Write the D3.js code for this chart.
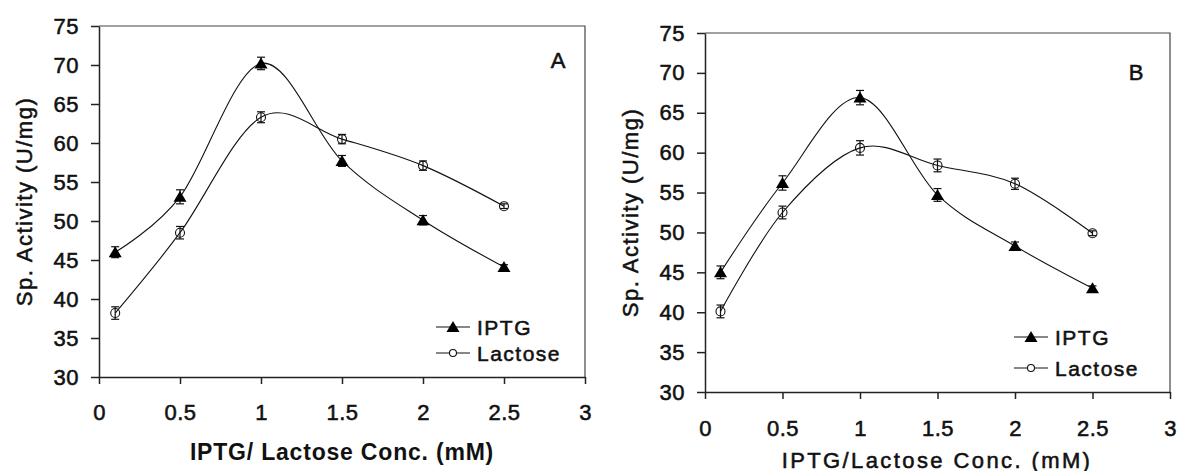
<!DOCTYPE html>
<html>
<head>
<meta charset="utf-8">
<script src="https://cdn.jsdelivr.net/npm/d3@7"></script>
<style>
  body { margin: 0; background: #fff; }
  text { font-family: "Liberation Sans", Arial, sans-serif; fill: #111; }
  .heavy { stroke: #111; stroke-width: 0.55px; }
</style>
</head>
<body>
<div id="container"></div>
<script>
// concentrations (mM)
var conc = [0.1, 0.5, 1, 1.5, 2, 2.5];

// panel A
var iptgA = [46.0, 53.1, 70.2, 57.7, 50.1, 44.1];
var iptgErrA = [0.7, 0.9, 0.8, 0.7, 0.6, 0.3];
var lactoseA = [38.2, 48.5, 63.3, 60.5, 57.1, 51.9];
var lactoseErrA = [0.8, 0.8, 0.7, 0.6, 0.6, 0.3];

// panel B
var iptgB = [45.0, 56.2, 66.9, 54.7, 48.3, 43.0];
var iptgErrB = [0.8, 0.9, 0.9, 0.8, 0.5, 0.3];
var lactoseB = [40.1, 52.5, 60.6, 58.4, 56.1, 49.9];
var lactoseErrB = [0.8, 0.8, 0.9, 0.8, 0.7, 0.3];

var xTicks = [0, 0.5, 1, 1.5, 2, 2.5, 3];
var yTicks = [30, 35, 40, 45, 50, 55, 60, 65, 70, 75];
var seriesNames = ["IPTG", "Lactose"];

var svg = d3.select("#container")
    .append("svg")
    .attr("width", 1178)
    .attr("height", 471);

var drawPanel = function (p) {
    var x = d3.scaleLinear().domain([0, 3]).range([p.left, p.right]);
    var y = d3.scaleLinear().domain([30, 75]).range([p.bottom, p.top]);
    var g = svg.append("g");

    // box (top / right)
    g.append("path")
        .attr("d", "M" + p.left + "," + p.top + "H" + p.right + "V" + p.bottom)
        .attr("fill", "none")
        .attr("stroke", "#444")
        .attr("stroke-width", 1.2);

    var yAxis = g.append("g")
        .attr("transform", "translate(" + p.left + ",0)")
        .call(d3.axisLeft(y).tickValues(yTicks).tickSize(8).tickPadding(p.yPad).tickSizeOuter(0));
    var xAxis = g.append("g")
        .attr("transform", "translate(0," + p.bottom + ")")
        .call(d3.axisBottom(x).tickValues(xTicks).tickSize(7).tickPadding(p.xPad)
            .tickFormat(d3.format("")).tickSizeOuter(0));

    [yAxis, xAxis].forEach(function (a) {
        a.selectAll("path, line").attr("stroke", "#222").attr("stroke-width", 1.5);
        a.selectAll("text")
            .attr("class", "heavy")
            .style("font-size", "22px")
            .style("letter-spacing", "0.5px")
            .attr("fill", "#111");
    });

    // axis titles
    g.append("text")
        .attr("class", p.xTitleWeight === "bold" ? null : "heavy")
        .attr("x", p.xTitleX)
        .attr("y", p.xTitleY)
        .attr("text-anchor", "middle")
        .attr("dominant-baseline", "central")
        .style("font-size", p.xTitleSize + "px")
        .style("font-weight", p.xTitleWeight)
        .style("letter-spacing", p.xTitleSpacing + "px")
        .text(p.xTitle);

    g.append("text")
        .attr("class", "heavy")
        .attr("transform", "translate(" + p.yTitleX + "," + (p.top + p.bottom) / 2 + ") rotate(-90)")
        .attr("text-anchor", "middle")
        .attr("dominant-baseline", "central")
        .style("font-size", "22px")
        .style("letter-spacing", "1.5px")
        .text("Sp. Activity (U/mg)");

    g.append("text")
        .attr("class", "heavy")
        .attr("x", p.labelX)
        .attr("y", p.labelY)
        .attr("text-anchor", "middle")
        .attr("dominant-baseline", "central")
        .style("font-size", "22px")
        .text(p.label);

    var line = d3.line()
        .x(function (d) { return x(d.x); })
        .y(function (d) { return y(d.y); })
        .curve(d3.curveCatmullRom.alpha(0));

    p.series.forEach(function (s, si) {
        var pts = conc.map(function (c, i) { return { x: c, y: s.values[i], e: s.errors[i] }; });

        g.append("path")
            .datum(pts)
            .attr("d", line)
            .attr("fill", "none")
            .attr("stroke", "#111")
            .attr("stroke-width", 1.1);

        // error bars
        var eb = g.selectAll(null).data(pts).enter().append("g");
        eb.append("line")
            .attr("x1", function (d) { return x(d.x); })
            .attr("x2", function (d) { return x(d.x); })
            .attr("y1", function (d) { return y(d.y - d.e); })
            .attr("y2", function (d) { return y(d.y + d.e); })
            .attr("stroke", "#111").attr("stroke-width", 1.2);
        [-1, 1].forEach(function (sg) {
            eb.append("line")
                .attr("x1", function (d) { return x(d.x) - 4; })
                .attr("x2", function (d) { return x(d.x) + 4; })
                .attr("y1", function (d) { return y(d.y + sg * d.e); })
                .attr("y2", function (d) { return y(d.y + sg * d.e); })
                .attr("stroke", "#111").attr("stroke-width", 1.2);
        });

        // markers
        if (si === 0) {
            g.selectAll(null).data(pts).enter().append("path")
                .attr("d", "M0,-6L6.5,5L-6.5,5Z")
                .attr("transform", function (d) { return "translate(" + x(d.x) + "," + y(d.y) + ")"; })
                .attr("fill", "#000");
        } else {
            g.selectAll(null).data(pts).enter().append("circle")
                .attr("cx", function (d) { return x(d.x); })
                .attr("cy", function (d) { return y(d.y); })
                .attr("r", 4.5)
                .attr("fill", "none")
                .attr("stroke", "#111")
                .attr("stroke-width", 1.1);
        }

        // legend
        var ly = p.legendY[si];
        g.append("line")
            .attr("x1", p.legendX).attr("x2", p.legendX + 34)
            .attr("y1", ly).attr("y2", ly)
            .attr("stroke", "#111").attr("stroke-width", 1.2);
        if (si === 0) {
            g.append("path")
                .attr("d", "M0,-6L6.5,5L-6.5,5Z")
                .attr("transform", "translate(" + (p.legendX + 17) + "," + ly + ")")
                .attr("fill", "#000");
        } else {
            g.append("circle")
                .attr("cx", p.legendX + 17).attr("cy", ly).attr("r", 3.5)
                .attr("fill", "#fff").attr("stroke", "#111").attr("stroke-width", 1.1);
        }
        g.append("text")
            .attr("class", "heavy")
            .attr("x", p.legendX + 41)
            .attr("y", ly)
            .attr("dominant-baseline", "central")
            .style("font-size", "21px")
            .style("letter-spacing", "1.5px")
            .text(seriesNames[si]);
    });
};

drawPanel({
    left: 99, right: 585, top: 26, bottom: 377,
    yPad: 12, xPad: 20,
    xTitle: "IPTG/ Lactose Conc. (mM)", xTitleX: 342, xTitleY: 452,
    xTitleSize: 23, xTitleWeight: "bold", xTitleSpacing: 0.8,
    yTitleX: 24,
    label: "A", labelX: 558, labelY: 60,
    legendX: 436, legendY: [327, 353],
    series: [
        { values: iptgA, errors: iptgErrA },
        { values: lactoseA, errors: lactoseErrA }
    ]
});

drawPanel({
    left: 705, right: 1170, top: 33, bottom: 392,
    yPad: 12, xPad: 21,
    xTitle: "IPTG/Lactose Conc. (mM)", xTitleX: 937, xTitleY: 460,
    xTitleSize: 22, xTitleWeight: "normal", xTitleSpacing: 2.4,
    yTitleX: 630,
    label: "B", labelX: 1136, labelY: 72,
    legendX: 1014, legendY: [337, 368],
    series: [
        { values: iptgB, errors: iptgErrB },
        { values: lactoseB, errors: lactoseErrB }
    ]
});
</script>
</body>
</html>
